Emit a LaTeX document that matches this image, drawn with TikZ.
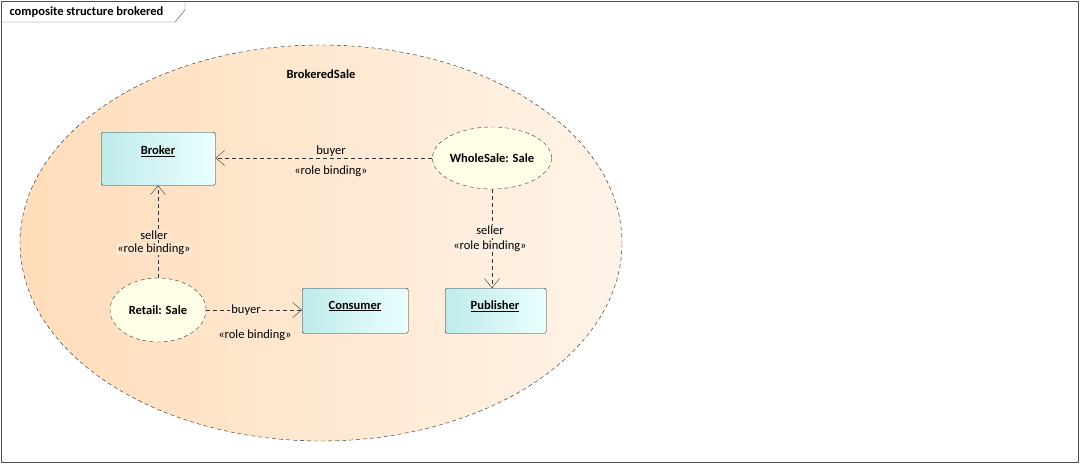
\documentclass[tikz,border=0pt]{standalone}
\usepackage{fontspec}
\setmainfont{Carlito}
\usetikzlibrary{arrows.meta,shapes.geometric}
\begin{document}
\begin{tikzpicture}[x=1pt,y=-1pt,font=\fontsize{12.5}{14}\selectfont,
 dsh/.style={dash pattern=on 4pt off 3pt},
 cls/.style={draw=black!85,rounded corners=1.5pt,left color=cyan!35!teal!25!white,right color=cyan!8!white,shading angle=90,inner sep=0pt},
 part/.style={ellipse,draw=black!80,dsh,fill=yellow!10!white,inner sep=0pt,font=\fontsize{12.5}{14}\selectfont\bfseries},
 conn/.style={draw=black!80,dsh,-{Straight Barb[length=9pt,width=15pt]}},
 lbl/.style={inner sep=1pt}]
\useasboundingbox (0,0) rectangle (1080,464);
\draw[black!70] (1,1) rectangle (1078,462);
\draw[black!70] (1,22) -- (175,22) -- (185,10) -- (185,1);
\node[anchor=west,font=\fontsize{12.5}{14}\selectfont\bfseries] (title) at (6,12) {composite structure brokered};
\shade[left color=orange!27!white,right color=orange!9!white] (321,243) ellipse [x radius=301,y radius=198];
\draw[dsh,black!85] (321,243) ellipse [x radius=301,y radius=198];
\node[font=\fontsize{12.5}{14}\selectfont\bfseries] (bs) at (321,74) {BrokeredSale};
\node[cls,minimum width=114pt,minimum height=53pt,anchor=north west] (broker) at (101,132) {};
\node[font=\fontsize{12.5}{14}\selectfont\bfseries] (brokert) at (158,151) {\underline{Broker}};
\node[cls,minimum width=106pt,minimum height=45pt,anchor=north west] (consumer) at (302,288) {};
\node[font=\fontsize{12.5}{14}\selectfont\bfseries] (consumert) at (355,306) {\underline{Consumer}};
\node[cls,minimum width=101pt,minimum height=45pt,anchor=north west] (publisher) at (445,288) {};
\node[font=\fontsize{12.5}{14}\selectfont\bfseries] (publishert) at (495,306) {\underline{Publisher}};
\node[part,minimum width=94pt,minimum height=62pt] (whole) at (492,158) {WholeSale: Sale};
\node[part,minimum width=96pt,minimum height=64pt] (retail) at (158,310) {Retail: Sale};
\draw[conn] (whole.west) -- (broker.east |- whole.west);
\draw[conn] (retail.north) -- (retail.north |- broker.south);
\draw[conn] (whole.south) -- (whole.south |- publisher.north);
\draw[conn] (retail.east) -- (consumer.west |- retail.east);
\node[lbl,fill=orange!17!white] (l1) at (331,151) {buyer};
\node[lbl] (l2) at (331,171) {«role binding»};
\node[lbl,fill=orange!19!white] (l3) at (154,235) {seller};
\node[lbl,fill=orange!19!white] (l4) at (154,249) {«role binding»};
\node[lbl,fill=orange!11!white] (l5) at (490,230) {seller};
\node[lbl,fill=orange!11!white] (l6) at (490,246) {«role binding»};
\node[lbl,fill=orange!18!white] (l7) at (246,310) {buyer};
\node[lbl] (l8) at (255,335) {«role binding»};
\end{tikzpicture}
\end{document}
